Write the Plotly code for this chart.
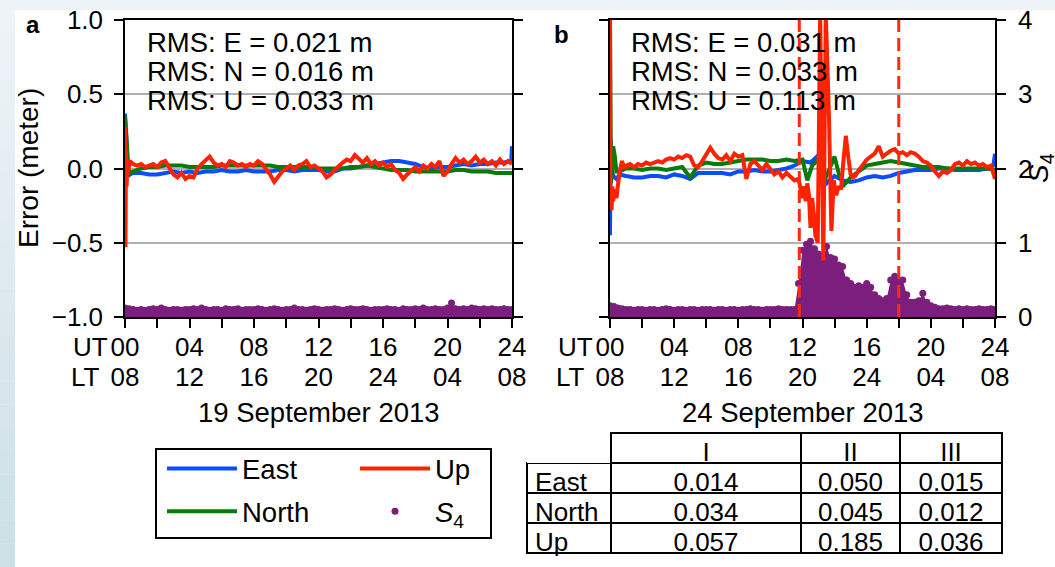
import plotly.graph_objects as go

W, H = 1055, 567


def grid(start, stop, step):
    n = int(round((stop - start) / step)) + 1
    return [round(start + i * step, 4) for i in range(n)]


# ---------------- data : panel a (19 September 2013) ----------------
a_east_t = [0, 0.05, 0.1, 0.2, 0.3] + grid(0.5, 23.5, 0.5) + [23.95, 24.0]
a_east = [0.37, 0.25, 0.1, -0.05, -0.04,
          -0.03, -0.03, -0.04, -0.04, -0.03, -0.02, -0.03, -0.02,
          -0.03, -0.02, -0.02, -0.01, -0.02, -0.02, -0.01, -0.02,
          -0.02, -0.02, -0.01, -0.01, -0.02, -0.01, -0.01, -0.01,
          -0.02, -0.02, 0.0, 0.0, 0.01, 0.02, 0.03, 0.04,
          0.05, 0.05, 0.04, 0.03, 0.01, 0.0, 0.01, 0.01,
          0.02, 0.03, 0.02, 0.03, 0.03, 0.04, 0.04,
          0.05, 0.15]

a_north_t = [0, 0.05, 0.1, 0.15, 0.2, 0.3] + grid(0.5, 24, 0.5)
a_north = [0.35, 0.3, 0.2, 0.1, 0.0, -0.03,
           -0.02, 0.0, 0.01, 0.01, 0.02, 0.02, 0.02, 0.01,
           0.01, 0.01, 0.01, 0.02, 0.02, 0.02, 0.02, 0.02,
           0.02, 0.02, 0.01, 0.01, 0.01, 0.01, 0.01, 0.0,
           0.0, 0.0, 0.0, 0.01, 0.01, 0.02, 0.01, 0.0,
           -0.01, -0.01, -0.01, -0.02, -0.02, -0.02, -0.02, -0.02,
           -0.01, -0.01, -0.02, -0.02, -0.02, -0.03, -0.03, -0.03]

a_up_t = [0, 0.03, 0.06, 0.1, 0.15, 0.2, 0.3] + grid(0.5, 24, 0.25)
a_up = [0.28, -0.53, 0.12, -0.12, 0.06, -0.02, 0.05,
        0.03, 0.02, 0.03, 0.01, 0.02, 0.03, 0.01, 0.04,
        0.05, 0.0, -0.04, -0.06, -0.03, -0.07, -0.05, -0.06,
        0.0, 0.03, 0.06, 0.08, 0.04, 0.02, 0.03, 0.01,
        0.05, 0.04, 0.02, 0.03, 0.01, 0.03, 0.02, 0.05,
        0.03, 0.0, -0.04, -0.09, -0.05, -0.02, 0.0, 0.02,
        -0.01, 0.02, 0.03, 0.05, 0.01, 0.02, 0.0, -0.02,
        -0.06, -0.04, -0.01, 0.02, 0.04, 0.06, 0.05, 0.09,
        0.06, 0.04, 0.07, 0.03, 0.05, 0.02, 0.04, 0.01,
        0.03, -0.01, -0.03, -0.07, -0.04, -0.01, 0.01, -0.02,
        0.02, 0.0, 0.03, 0.01, 0.05, -0.05, -0.02, 0.03,
        0.07, 0.04, 0.06, 0.03, 0.05, 0.08, 0.04, 0.06,
        0.03, 0.05, 0.02, 0.06, 0.03, 0.05, 0.03]

a_s4_t = grid(0, 24, 0.25)
a_s4 = [0.12, 0.11, 0.10, 0.09, 0.10, 0.09, 0.10, 0.11,
        0.10, 0.12, 0.10, 0.09, 0.10, 0.10, 0.09, 0.10,
        0.10, 0.11, 0.10, 0.12, 0.10, 0.09, 0.10, 0.10,
        0.09, 0.11, 0.10, 0.10, 0.11, 0.09, 0.10, 0.10,
        0.10, 0.11, 0.10, 0.09, 0.10, 0.11, 0.10, 0.09,
        0.10, 0.10, 0.12, 0.10, 0.10, 0.09, 0.10, 0.11,
        0.10, 0.09, 0.10, 0.10, 0.11, 0.10, 0.09, 0.10,
        0.11, 0.10, 0.10, 0.11, 0.10, 0.09, 0.10, 0.10,
        0.10, 0.11, 0.10, 0.10, 0.09, 0.11, 0.10, 0.10,
        0.11, 0.10, 0.12, 0.10, 0.10, 0.11, 0.10, 0.10,
        0.12, 0.19, 0.11, 0.10, 0.11, 0.10, 0.12, 0.11,
        0.10, 0.11, 0.10, 0.11, 0.10, 0.10, 0.11, 0.10,
        0.10]

# ---------------- data : panel b (24 September 2013) ----------------
b_east_t = [0, 0.05, 0.1, 0.2, 0.4, 0.6] + grid(1.0, 23.5, 0.5) + [23.9, 24.0]
b_east = [-0.45, 0.2, 0.0, -0.05, -0.07, -0.04,
          -0.05, -0.06, -0.06, -0.05, -0.05, -0.06, -0.04, -0.05,
          -0.07, -0.03, -0.03, -0.03, -0.03, -0.04, -0.02, -0.02,
          -0.01, -0.02, -0.02, -0.01, 0.0, 0.02, 0.05, 0.04,
          0.09, -0.1, -0.05, -0.08, -0.09, -0.08, -0.06, -0.05,
          -0.06, -0.05, -0.03, -0.02, -0.01, -0.01, -0.01, 0.0,
          0.0, -0.01, -0.01, -0.01, -0.01, 0.0,
          0.02, 0.1]

b_north_t = ([0, 0.03, 0.06, 0.1, 0.15, 0.2, 0.3, 0.4, 0.6] + grid(1.0, 12.0, 0.5)
             + [12.3, 12.6, 13.0, 13.3, 13.7, 14.0, 14.3, 14.6, 15.0] + grid(15.5, 24, 0.5))
b_north = [1.05, 0.3, -0.1, -0.05, 0.1, 0.15, 0.08, -0.02, -0.02,
           0.0, 0.0, -0.01, 0.0, 0.0, -0.01, 0.0, 0.01,
           -0.06, 0.02, 0.04, 0.03, 0.03, 0.04, 0.05, 0.06,
           0.06, 0.06, 0.05, 0.05, 0.06, 0.05, 0.06,
           -0.08, 0.02, 0.06, -0.1, 0.0, 0.08, -0.05, -0.11, -0.06,
           -0.02, 0.02, 0.03, 0.04, 0.05, 0.04, 0.03, 0.02, 0.01,
           0.01, 0.01, 0.0, 0.0, 0.0, 0.0, 0.0, 0.0, -0.01]

b_up_t = ([0, 0.02, 0.05, 0.1, 0.15, 0.2, 0.3, 0.4, 0.5, 0.6, 0.75, 0.9]
          + grid(1.0, 11.75, 0.25)
          + [11.9, 12.0, 12.1, 12.2, 12.3, 12.4, 12.5, 12.6, 12.7, 12.8, 12.95, 13.1,
             13.3, 13.45, 13.65, 13.8, 13.95, 14.1, 14.25, 14.4, 14.55, 14.7, 14.85,
             15.0, 15.15, 15.3, 15.45]
          + grid(15.75, 24, 0.25))
b_up = [1.05, -0.25, -0.2, -0.28, -0.12, -0.22, -0.14, -0.2, -0.1, -0.02, 0.05, 0.0,
        0.02, 0.03, 0.01, 0.03, 0.02, 0.04, 0.03, 0.04,
        0.05, 0.04, 0.06, 0.07, 0.06, 0.08, 0.07, 0.09,
        0.08, 0.02, 0.01, 0.05, 0.1, 0.14, 0.1, 0.07,
        0.06, 0.09, 0.05, 0.1, 0.08, 0.09, -0.07, 0.03,
        0.05, 0.02, -0.01, 0.03, 0.0, -0.04, -0.02, -0.06,
        -0.03, -0.06, -0.08, -0.07,
        -0.14, -0.2, -0.12, -0.22, -0.1, -0.18, -0.4, -0.2, -0.3, -0.45, -0.5, 1.05,
        -0.62, 1.05, 0.35, -0.42, -0.08, -0.18, -0.12, -0.14, 0.05, 0.22, 0.08,
        -0.04, -0.06, -0.05, -0.02,
        0.03, 0.06, 0.08, 0.1, 0.15, 0.08, 0.1, 0.12,
        0.13, 0.1, 0.11, 0.09, 0.11, 0.1, 0.08, 0.05,
        0.04, 0.02, -0.02, -0.05, -0.02, -0.03, -0.01, 0.03,
        0.04, 0.02, 0.05, 0.03, 0.04, 0.02, 0.03, 0.01,
        0.02, -0.07]

b_s4_t = grid(0, 24, 0.25)
b_s4 = [0.15, 0.14, 0.12, 0.11, 0.10, 0.10, 0.09, 0.10,
        0.10, 0.09, 0.10, 0.10, 0.09, 0.10, 0.11, 0.10,
        0.09, 0.10, 0.10, 0.09, 0.10, 0.10, 0.09, 0.10,
        0.10, 0.10, 0.09, 0.10, 0.10, 0.09, 0.10, 0.10,
        0.09, 0.10, 0.10, 0.11, 0.10, 0.10, 0.09, 0.10,
        0.10, 0.10, 0.11, 0.10, 0.10, 0.10, 0.10, 0.45,
        0.90, 0.98, 1.02, 0.92, 0.85, 0.78, 0.95, 0.80,
        0.78, 0.70, 0.68, 0.50, 0.45, 0.40, 0.42, 0.40,
        0.45, 0.40, 0.30, 0.25, 0.22, 0.25, 0.50, 0.55,
        0.50, 0.50, 0.30, 0.20, 0.20, 0.22, 0.32, 0.20,
        0.15, 0.13, 0.11, 0.11, 0.12, 0.11, 0.10, 0.11,
        0.10, 0.11, 0.10, 0.10, 0.11, 0.10, 0.10, 0.11,
        0.10]

# period boundaries (hours UT) marked in panel b
period_bounds = [11.8, 18.0]

# RMS texts
rms_a = ["RMS: E = 0.021 m", "RMS: N = 0.016 m", "RMS: U = 0.033 m"]
rms_b = ["RMS: E = 0.031 m", "RMS: N = 0.033 m", "RMS: U = 0.113 m"]

# table of RMS per period
table_header = ["", "I", "II", "III"]
table_rows = ["East", "North", "Up"]
table_I = ["0.014", "0.034", "0.057"]
table_II = ["0.050", "0.045", "0.185"]
table_III = ["0.015", "0.012", "0.036"]

# axis ticks
x_tickvals = grid(0, 24, 2)
ut_labels = ["00", "04", "08", "12", "16", "20", "24"]
lt_labels = ["08", "12", "16", "20", "24", "04", "08"]
err_ticks = [-1.0, -0.5, 0.0, 0.5, 1.0]
err_ticktext = ["\u22121.0", "\u22120.5", "0.0", "0.5", "1.0"]
s4_ticks = [0, 1, 2, 3, 4]

# ---------------- styling ----------------
C_EAST = "#0a4cff"
C_NORTH = "#0a7a0a"
C_UP = "#ff2200"
C_S4 = "#7c1f7c"
FONT = "Liberation Sans, Arial, Helvetica, sans-serif"
FS = 26      # tick labels / table
FA = 27.5    # annotations / legend


def px(x):
    return x / W


def py(y):
    return 1 - y / H


def sparse_labels(labels):
    out, k = [], 0
    for v in x_tickvals:
        if int(v) % 4 == 0:
            out.append(labels[k])
            k += 1
        else:
            out.append("")
    return out


ut_text = sparse_labels(ut_labels)
lt_text = sparse_labels(lt_labels)

fig = go.Figure()

# ---- panel a ----
fig.add_trace(go.Scatter(x=a_s4_t, y=a_s4, mode="lines", line=dict(width=0, color=C_S4),
                         fill="tozeroy", fillcolor=C_S4, showlegend=False, hoverinfo="skip",
                         xaxis="x", yaxis="y"))
fig.add_trace(go.Scatter(x=a_s4_t, y=a_s4, mode="markers", name="<i>S</i><sub>4</sub>",
                         marker=dict(color=C_S4, size=7), legend="legend2", legendgroup="s4",
                         legendrank=2, xaxis="x", yaxis="y"))
fig.add_trace(go.Scatter(x=a_east_t, y=a_east, mode="lines", name="East",
                         line=dict(color=C_EAST, width=4), legend="legend", legendgroup="e",
                         legendrank=1, xaxis="x", yaxis="y2"))
fig.add_trace(go.Scatter(x=a_north_t, y=a_north, mode="lines", name="North",
                         line=dict(color=C_NORTH, width=4), legend="legend", legendgroup="n",
                         legendrank=2, xaxis="x", yaxis="y2"))
# Up is drawn on the overlaid local-time x axis (same range), so it sits on top
fig.add_trace(go.Scatter(x=a_up_t, y=a_up, mode="lines", name="Up",
                         line=dict(color=C_UP, width=4), legend="legend2", legendgroup="u",
                         legendrank=1, xaxis="x3", yaxis="y2"))

# ---- panel b ----
fig.add_trace(go.Scatter(x=b_s4_t, y=b_s4, mode="lines", line=dict(width=0, color=C_S4),
                         fill="tozeroy", fillcolor=C_S4, showlegend=False, hoverinfo="skip",
                         xaxis="x2", yaxis="y3"))
fig.add_trace(go.Scatter(x=b_s4_t, y=b_s4, mode="markers", marker=dict(color=C_S4, size=7),
                         showlegend=False, xaxis="x2", yaxis="y3"))
fig.add_trace(go.Scatter(x=b_east_t, y=b_east, mode="lines", line=dict(color=C_EAST, width=4),
                         showlegend=False, xaxis="x2", yaxis="y4"))
fig.add_trace(go.Scatter(x=b_north_t, y=b_north, mode="lines", line=dict(color=C_NORTH, width=4),
                         showlegend=False, xaxis="x2", yaxis="y4"))
fig.add_trace(go.Scatter(x=b_up_t, y=b_up, mode="lines", line=dict(color=C_UP, width=4),
                         showlegend=False, xaxis="x4", yaxis="y4"))

# ---- table ----
fig.add_trace(go.Table(
    domain=dict(x=[px(527), px(1002)], y=[py(562), py(433)]),
    columnwidth=[84, 190, 99, 102],
    header=dict(values=table_header, height=30, align="center",
                line=dict(color=["rgba(0,0,0,0)", "black", "black", "black"], width=2),
                fill=dict(color="white"), font=dict(family=FONT, size=FS, color="black")),
    cells=dict(values=[table_rows, table_I, table_II, table_III], height=30,
               align=["left", "center", "center", "center"],
               line=dict(color="black", width=2), fill=dict(color="white"),
               font=dict(family=FONT, size=FS, color="black")),
))

axis_common = dict(showline=True, linecolor="black", linewidth=1.5, ticks="outside",
                   ticklen=9, tickwidth=1.5, tickcolor="black", zeroline=False,
                   automargin=False,
                   tickfont=dict(family=FONT, size=FS, color="black"))

xa = dict(axis_common, range=[0, 24], tickmode="array", tickvals=x_tickvals,
          ticktext=ut_text, showgrid=False, mirror=True, ticklabelstandoff=-3)
# second label row (local time) as an overlaid axis sharing the same ticks
xlt = dict(range=[0, 24], tickmode="array", tickvals=x_tickvals, ticktext=lt_text,
           showgrid=False, showline=False, ticks="", zeroline=False, automargin=False,
           ticklabelstandoff=42, tickfont=dict(family=FONT, size=FS, color="black"))

fig.update_layout(
    template="none",
    width=W, height=H,
    margin=dict(l=0, r=0, t=0, b=0, pad=0),
    paper_bgcolor="#eef3f7",
    plot_bgcolor="white",
    font=dict(family=FONT, size=FS, color="black"),
    xaxis=dict(xa, domain=[px(125), px(512)], anchor="y"),
    xaxis2=dict(xa, domain=[px(610), px(995)], anchor="y3"),
    xaxis3=dict(xlt, overlaying="x", anchor="y", side="bottom"),
    xaxis4=dict(xlt, overlaying="x2", anchor="y3", side="bottom"),
    yaxis=dict(axis_common, domain=[py(317), py(20)], anchor="x", side="right", range=[0, 4],
               tickmode="array", tickvals=s4_ticks, showticklabels=False, showgrid=False),
    yaxis2=dict(axis_common, overlaying="y", anchor="x", side="left", range=[-1, 1],
                tickmode="array", tickvals=err_ticks, ticktext=err_ticktext,
                ticklabelstandoff=6,
                showgrid=True, gridcolor="#b0b0b0", gridwidth=1.5),
    yaxis3=dict(axis_common, domain=[py(317), py(20)], anchor="x2", side="right", range=[0, 4],
                tickmode="array", tickvals=s4_ticks, showgrid=False, ticklabelstandoff=7),
    yaxis4=dict(axis_common, overlaying="y3", anchor="x2", side="left", range=[-1, 1],
                tickmode="array", tickvals=err_ticks, showticklabels=False,
                showgrid=True, gridcolor="#b0b0b0", gridwidth=1.5),
    legend=dict(x=px(162), y=py(444), xanchor="left", yanchor="top", bgcolor="rgba(0,0,0,0)",
                borderwidth=0, font=dict(family=FONT, size=FA, color="black"), itemwidth=70,
                traceorder="grouped", tracegroupgap=4),
    legend2=dict(x=px(355), y=py(444), xanchor="left", yanchor="top", bgcolor="rgba(0,0,0,0)",
                 borderwidth=0, font=dict(family=FONT, size=FA, color="black"), itemwidth=70,
                 traceorder="grouped", tracegroupgap=4),
    showlegend=True,
)

shapes = []
# white figure sheet over the light page background
shapes.append(dict(type="rect", xref="paper", yref="paper", x0=px(15), x1=1, y0=0, y1=py(10),
                   fillcolor="white", line=dict(width=0), layer="below"))
# left page strip gradient
n_band = 24
c0 = (238, 243, 247)
c1 = (204, 224, 231)
for i in range(n_band):
    f = i / (n_band - 1)
    col = "rgb(%d,%d,%d)" % tuple(int(round(c0[j] + (c1[j] - c0[j]) * f)) for j in range(3))
    shapes.append(dict(type="rect", xref="paper", yref="paper", x0=0, x1=px(15),
                       y1=py(10 + i * (H - 10) / n_band), y0=py(10 + (i + 1) * (H - 10) / n_band),
                       fillcolor=col, line=dict(width=0), layer="below"))
# period boundaries
for b in period_bounds:
    shapes.append(dict(type="line", xref="x2", yref="y3 domain", x0=b, x1=b, y0=0, y1=1,
                       line=dict(color="#ff2a12", width=3, dash="13px,6px")))
# legend frame
shapes.append(dict(type="rect", xref="paper", yref="paper", x0=px(156), x1=px(491),
                   y0=py(538), y1=py(449), line=dict(color="black", width=2),
                   fillcolor="rgba(0,0,0,0)"))
fig.update_layout(shapes=shapes)

ann = []


def add_text(x, y, text, xanchor="center", size=FA, angle=0, bold=False):
    ann.append(dict(x=px(x), y=py(y), xref="paper", yref="paper", text=("<b>%s</b>" % text) if bold else text,
                    showarrow=False, xanchor=xanchor, yanchor="middle", textangle=angle,
                    font=dict(family=FONT, size=size, color="black")))


add_text(33, 24, "a", size=24, bold=True)
add_text(561, 34, "b", size=24, bold=True)
for i, s in enumerate(rms_a):
    add_text(145, 42 + 29 * i, s, xanchor="left")
for i, s in enumerate(rms_b):
    add_text(629, 42 + 29 * i, s, xanchor="left")
for x0 in (125, 610):
    add_text(x0 - 15, 347, "UT", xanchor="right", size=FS)
    add_text(x0 - 23, 377, "LT", xanchor="right", size=FS)
add_text(318.5, 412, "19 September 2013")
add_text(802.5, 412, "24 September 2013")
add_text(28, 168, "Error (meter)", size=28, angle=-90)
add_text(1040, 168, "<i>S</i><sub>4</sub>", size=28, angle=-90)
fig.update_layout(annotations=ann)

fig.write_html("out.html")
